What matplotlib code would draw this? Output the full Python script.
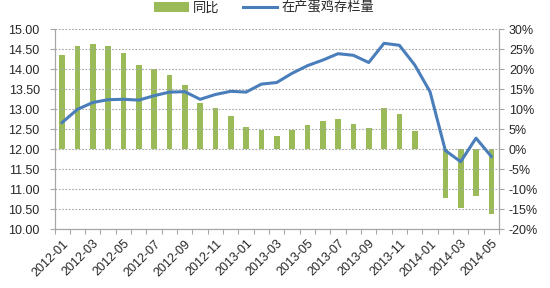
import numpy as np
import matplotlib
matplotlib.use("Agg")
import matplotlib.pyplot as plt
from matplotlib.ticker import FuncFormatter, FixedLocator
from matplotlib.patches import Patch
from matplotlib.lines import Line2D

plt.rcParams['font.family'] = ['Liberation Sans', 'Noto Sans CJK SC',
                               'DejaVu Sans']

# monthly data, 2012-01 .. 2014-05
months = ["2012-01", "2012-02", "2012-03", "2012-04", "2012-05", "2012-06",
          "2012-07", "2012-08", "2012-09", "2012-10", "2012-11", "2012-12",
          "2013-01", "2013-02", "2013-03", "2013-04", "2013-05", "2013-06",
          "2013-07", "2013-08", "2013-09", "2013-10", "2013-11", "2013-12",
          "2014-01", "2014-02", "2014-03", "2014-04", "2014-05"]

# 同比 (%), right axis; 2014-01 has no bar
yoy = [23.6, 25.8, 26.3, 25.8, 24.0, 21.2, 20.1, 18.6, 16.0, 11.7,
       10.3, 8.4, 5.7, 4.8, 3.4, 4.8, 6.0, 7.1, 7.6, 6.4,
       5.3, 10.3, 8.8, 4.5, None, -12.2, -14.6, -11.7, -16.2]

# 在产蛋鸡存栏量, left axis
stock = [12.67, 13.00, 13.17, 13.24, 13.25, 13.23, 13.34, 13.43, 13.44,
         13.25, 13.37, 13.45, 13.43, 13.63, 13.67, 13.90, 14.09, 14.23,
         14.39, 14.35, 14.17, 14.65, 14.60, 14.11, 13.44, 11.97, 11.69,
         12.28, 11.82]

left_ticks = [10.0, 10.5, 11.0, 11.5, 12.0, 12.5, 13.0, 13.5, 14.0, 14.5,
              15.0]
right_ticks = [-20, -15, -10, -5, 0, 5, 10, 15, 20, 25, 30]

BAR_COLOR = "#9BBB59"
LINE_COLOR = "#4A7EBB"
AXIS_COLOR = "#A6A6A6"
TEXT_COLOR = "#262626"


def style_axes(ax, ax2, x):
    """Spines, ticks and gridlines in the Excel look."""
    ax.set_xlim(-0.5, len(x) - 0.5)
    ax.set_ylim(10, 15)
    ax2.set_ylim(-20, 30)
    ax.set_yticks(left_ticks)
    ax2.set_yticks(right_ticks)
    ax.yaxis.set_major_formatter(FuncFormatter(lambda v, _: '%.2f' % v))
    ax2.yaxis.set_major_formatter(FuncFormatter(lambda v, _: '%d%%' % v))

    ax.set_xticks(x[::2])
    ax.set_xticklabels(months[::2], rotation=45, ha='right',
                       rotation_mode='anchor')
    ax.xaxis.set_minor_locator(FixedLocator(np.arange(-0.5, len(x), 1)))
    ax.tick_params(axis='x', which='major', length=0, pad=6,
                   labelsize=9, labelcolor=TEXT_COLOR)
    ax.tick_params(axis='x', which='minor', length=3.6, width=0.8,
                   color=AXIS_COLOR, direction='out')
    ax.tick_params(axis='y', length=3.6, width=0.8, color=AXIS_COLOR,
                   pad=7, labelsize=9, labelcolor=TEXT_COLOR)
    ax2.tick_params(axis='y', length=3.6, width=0.8, color=AXIS_COLOR,
                    pad=3.5, labelsize=9, labelcolor=TEXT_COLOR)

    for a in (ax, ax2):
        for side, sp in a.spines.items():
            sp.set_color(AXIS_COLOR)
            sp.set_linewidth(0.8)
        a.spines['top'].set_visible(False)

    ax.grid(axis='y', linestyle=(0, (1.5, 1.5)), color=AXIS_COLOR,
            linewidth=0.8)
    ax.set_axisbelow(True)


def main():
    x = np.arange(len(months))
    bars = np.array([np.nan if v is None else v for v in yoy], dtype=float)

    fig = plt.figure(figsize=(5.5, 2.88), dpi=100)
    ax = fig.add_axes([54.5 / 550, 1 - 229.3 / 288, 444.5 / 550, 200 / 288])
    ax2 = ax.twinx()

    ax2.bar(x, bars, width=0.37, color=BAR_COLOR, linewidth=0)
    ax.plot(x, stock, color=LINE_COLOR, linewidth=2.2,
            solid_joinstyle='round')

    # keep the line above the bars
    ax.set_zorder(ax2.get_zorder() + 1)
    ax.patch.set_visible(False)

    style_axes(ax, ax2, x)

    handles = [Patch(facecolor=BAR_COLOR, edgecolor='none'),
               Line2D([], [], color=LINE_COLOR, linewidth=2.2)]
    fig.legend(handles, ["同比", "在产蛋鸡存栏量"], loc='center',
               bbox_to_anchor=(264 / 550, 1 - 8 / 288), ncol=2,
               frameon=False, fontsize=9.5, handlelength=2.6,
               handletextpad=0.3, columnspacing=1.8,
               borderpad=0.1, labelcolor=TEXT_COLOR)

    fig.savefig("out.png", dpi=100)


if __name__ == "__main__":
    main()
